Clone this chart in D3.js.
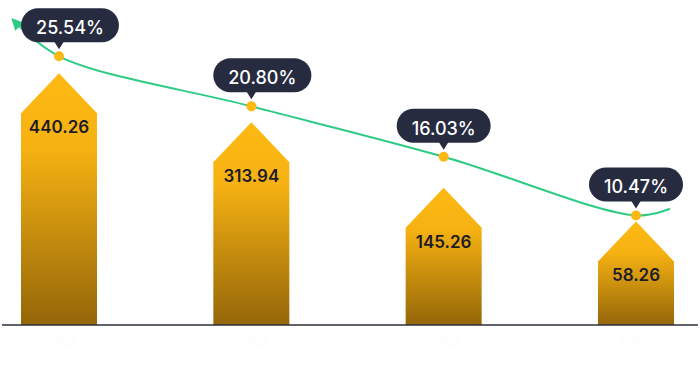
<!DOCTYPE html>
<html>
<head>
<meta charset="utf-8">
<script src="https://cdn.jsdelivr.net/npm/d3@7"></script>
<style>
  html, body { margin: 0; padding: 0; background: #fff; }
  svg { display: block; }
</style>
</head>
<body>
<script>
// data
const categories = ['一季度', '二季度', '三季度', '四季度']
const amounts = [440.26, 313.94, 145.26, 58.26]
const rates = [25.54, 20.80, 16.03, 10.47]
// where the green line starts / ends outside the points (in % units)
const lineHead = 29.0
const lineTail = 11.1

var width = 700, height = 372
var baseY = 325

var svg = d3.select('body').append('svg')
    .attr('width', width)
    .attr('height', height)

var defs = svg.append('defs')

var grad = defs.append('linearGradient')
    .attr('id', 'barGrad')
    .attr('x1', 0).attr('y1', 0).attr('x2', 0).attr('y2', 1)
grad.append('stop').attr('offset', '0%').attr('stop-color', '#feb913')
grad.append('stop').attr('offset', '30%').attr('stop-color', '#f6b212')
grad.append('stop').attr('offset', '100%').attr('stop-color', '#946609')

defs.append('marker')
    .attr('id', 'arrow')
    .attr('viewBox', '0 0 10 10')
    .attr('refX', 8).attr('refY', 5)
    .attr('markerWidth', 6).attr('markerHeight', 6)
    .attr('orient', 'auto-start-reverse')
    .append('path')
    .attr('d', 'M0,0 L10,5 L0,10 Z')
    .attr('fill', '#2ecb84')

var x = d3.scalePoint()
    .domain(categories)
    .range([59, 636])

var barW = 76
var tipH = 40

// bar value -> shoulder of the bar
var y = d3.scaleLinear()
    .domain([0, 500])
    .range([284, 90])

// rate -> line point
var yr = d3.scaleLinear()
    .domain([0, 30])
    .range([326, 9.2])

// bars (rect with a roof)
svg.selectAll('.bar')
    .data(amounts)
    .enter()
    .append('path')
    .attr('class', 'bar')
    .attr('fill', 'url(#barGrad)')
    .attr('d', function (d, i) {
        var cx = x(categories[i])
        var l = cx - barW / 2, r = cx + barW / 2
        var top = y(d)
        return 'M' + l + ',' + baseY + 'L' + l + ',' + top + 'L' + cx + ',' + (top - tipH) +
            'L' + r + ',' + top + 'L' + r + ',' + baseY + 'Z'
    })

svg.selectAll('.barLabel')
    .data(amounts)
    .enter()
    .append('text')
    .attr('class', 'barLabel')
    .attr('x', (d, i) => x(categories[i]))
    .attr('y', d => y(d) + 20)
    .attr('text-anchor', 'middle')
    .attr('font-family', 'Inter, sans-serif')
    .attr('font-weight', 600)
    .attr('font-size', 17)
    .attr('fill', '#1c1c28')
    .text(d => d.toFixed(2))

// axis
var xAxis = d3.axisBottom(x).tickSize(0).tickPadding(14)
var gx = svg.append('g')
    .attr('transform', 'translate(0,' + baseY + ')')
    .call(xAxis)
gx.select('.domain').remove()
gx.selectAll('text')
    .attr('fill', '#fdfdfd')
    .attr('font-size', 12)
    .attr('font-family', '"Noto Sans CJK SC", sans-serif')

svg.append('line')
    .attr('x1', 2).attr('x2', 698)
    .attr('y1', baseY).attr('y2', baseY)
    .attr('stroke', '#2b2e3b')
    .attr('stroke-width', 1.5)

// line
var pts = rates.map((d, i) => [x(categories[i]), yr(d)])
var first = x(categories[0]), last = x(categories[categories.length - 1])
var linePts = [[first - 46, yr(lineHead)]].concat(pts).concat([[last + 34, yr(lineTail)]])

var line = d3.line().curve(d3.curveCatmullRom.alpha(0.5))

svg.append('path')
    .attr('d', line(linePts))
    .attr('fill', 'none')
    .attr('stroke', '#2ecb84')
    .attr('stroke-width', 2)
    .attr('marker-start', 'url(#arrow)')

svg.selectAll('.dot')
    .data(rates)
    .enter()
    .append('circle')
    .attr('class', 'dot')
    .attr('cx', (d, i) => x(categories[i]))
    .attr('cy', d => yr(d))
    .attr('r', 5)
    .attr('fill', '#fdb913')

// bubbles
var bubbleShift = [11, 11, 0, 0]
var bubbles = svg.selectAll('.bubble')
    .data(rates)
    .enter()
    .append('g')
    .attr('class', 'bubble')

bubbles.each(function (d, i) {
    var g = d3.select(this)
    var px = x(categories[i]), py = yr(d)
    var cx = px + bubbleShift[i]
    var t = g.append('text')
        .attr('x', cx)
        .attr('y', py - 22)
        .attr('text-anchor', 'middle')
        .attr('font-family', 'Inter, sans-serif')
        .attr('font-weight', 500)
        .attr('font-size', 18)
        .attr('fill', '#ffffff')
        .text(d.toFixed(2) + '%')
    var tw = t.node().getComputedTextLength()
    var bw = tw + 30, bh = 34
    var bottom = py - 14
    g.insert('rect', 'text')
        .attr('x', cx - bw / 2)
        .attr('y', bottom - bh)
        .attr('width', bw)
        .attr('height', bh)
        .attr('rx', 17)
        .attr('fill', '#262b40')
    g.insert('path', 'text')
        .attr('d', 'M' + (px - 5) + ',' + (bottom - 1) + 'L' + px + ',' + (py - 7) + 'L' + (px + 5) + ',' + (bottom - 1) + 'Z')
        .attr('fill', '#262b40')
})
</script>
</body>
</html>
